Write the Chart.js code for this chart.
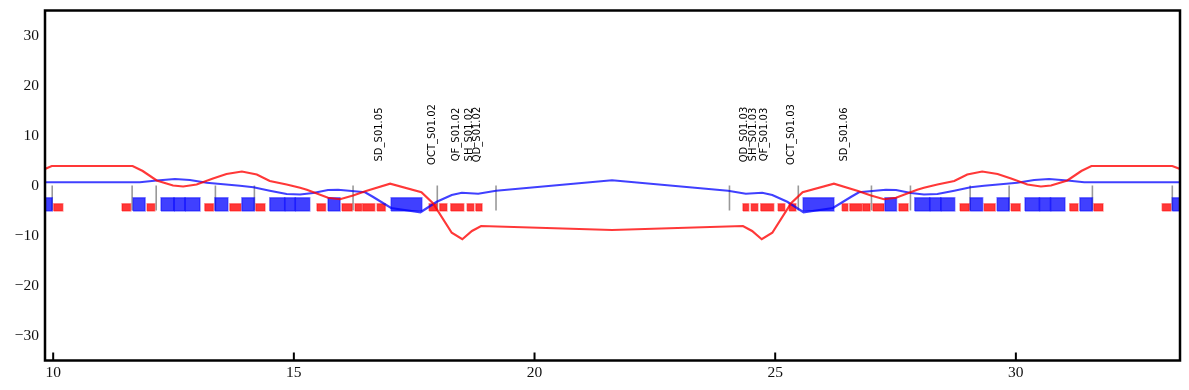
<html>
<head>
  <meta charset="utf-8" />
  <script src="https://cdn.jsdelivr.net/npm/chart.js@4/dist/chart.umd.min.js"></script>
  <style>
    body { margin: 0; background: white; }
    #latticeChart { display: block; }
  </style>
</head>
<body>
  <canvas id="latticeChart" width="1189" height="390"></canvas>
  <script>
    // axis ticks
    const xTicks = [10, 15, 20, 25, 30];
    const yTicks = [-30, -20, -10, 0, 10, 20, 30];

    // red trace
    const redX = [9.83, 9.97, 11.65, 11.86, 12.15, 12.49, 12.70, 12.98, 13.32, 13.60, 13.92, 14.23, 14.50, 14.85, 15.13, 15.27, 15.71, 15.96, 16.23, 16.50, 17.00, 17.65, 17.89, 18.28, 18.50, 18.70, 18.89, 21.61, 24.33, 24.52, 24.72, 24.94, 25.33, 25.57, 26.22, 26.72, 26.99, 27.26, 27.51, 27.95, 28.09, 28.37, 28.72, 28.99, 29.30, 29.62, 29.90, 30.24, 30.52, 30.73, 31.07, 31.36, 31.57, 33.25, 33.41];
    const redY = [3.3, 3.9, 3.9, 2.9, 1.0, 0.0, -0.2, 0.2, 1.4, 2.3, 2.8, 2.2, 0.9, 0.2, -0.45, -0.85, -2.45, -2.75, -2.0, -1.1, 0.35, -1.35, -3.55, -9.45, -10.75, -9.1, -8.1, -8.9, -8.1, -9.1, -10.75, -9.45, -3.55, -1.35, 0.35, -1.1, -2.0, -2.75, -2.45, -0.85, -0.45, 0.2, 0.9, 2.2, 2.8, 2.3, 1.4, 0.2, -0.2, 0.0, 1.0, 2.9, 3.9, 3.9, 3.3];

    // blue trace
    const blueX = [9.83, 11.64, 11.80, 12.15, 12.53, 12.84, 13.19, 13.88, 14.16, 14.50, 14.85, 15.13, 15.40, 15.71, 15.92, 16.48, 16.64, 17.02, 17.63, 17.97, 18.28, 18.49, 18.83, 19.20, 21.61, 24.02, 24.39, 24.73, 24.94, 25.25, 25.59, 26.20, 26.58, 26.74, 27.30, 27.51, 27.82, 28.09, 28.37, 28.72, 29.06, 29.34, 30.03, 30.38, 30.69, 31.07, 31.42, 31.58, 33.41];
    const blueY = [0.65, 0.65, 0.65, 1.0, 1.3, 1.1, 0.55, -0.05, -0.35, -1.05, -1.7, -1.8, -1.5, -0.9, -0.85, -1.35, -2.25, -4.5, -5.35, -3.25, -1.9, -1.45, -1.65, -1.05, 1.05, -1.05, -1.65, -1.45, -1.9, -3.25, -5.35, -4.5, -2.25, -1.35, -0.85, -0.9, -1.5, -1.8, -1.7, -1.05, -0.35, -0.05, 0.55, 1.1, 1.3, 1.0, 0.65, 0.65, 0.65];

    // blue elements
    const blueStart = [9.70, 11.66, 12.24, 12.51, 12.74, 13.36, 13.92, 14.50, 14.81, 15.03, 15.71, 17.02, 25.58, 27.28, 27.90, 28.21, 28.44, 29.05, 29.61, 30.19, 30.49, 30.72, 31.33, 33.25];
    const blueEnd = [9.98, 11.91, 12.51, 12.74, 13.05, 13.63, 14.18, 14.81, 15.03, 15.33, 15.96, 17.66, 26.22, 27.52, 28.21, 28.44, 28.73, 29.31, 29.86, 30.49, 30.72, 31.02, 31.59, 33.60];
    const blueLevels = [-2.45, -5.1];

    // red elements
    const redStart = [10.01, 11.43, 11.95, 13.15, 13.67, 14.21, 15.48, 16.00, 16.27, 16.43, 16.73, 17.81, 18.03, 18.26, 18.60, 18.78, 24.33, 24.50, 24.70, 25.06, 25.29, 26.39, 26.55, 26.82, 27.03, 27.57, 28.84, 29.34, 29.90, 31.12, 31.62, 33.04];
    const redEnd = [10.20, 11.61, 12.11, 13.33, 13.90, 14.40, 15.66, 16.21, 16.41, 16.68, 16.90, 17.97, 18.18, 18.53, 18.74, 18.91, 24.45, 24.64, 24.97, 25.20, 25.43, 26.51, 26.80, 26.97, 27.26, 27.76, 29.03, 29.57, 30.09, 31.29, 31.81, 33.22];
    const redLevels = [-3.65, -5.1];

    // grey markers
    const markerX = [9.98, 11.64, 12.14, 13.37, 14.18, 16.23, 17.98, 19.20, 24.05, 25.48, 27.00, 27.81, 29.05, 29.86, 31.59, 33.25];
    const markerLevels = [0, -5];

    // element names
    const labelNames = ["SD_S01.05", "OCT_S01.02", "QF_S01.02", "SH_S01.02", "QD_S01.02", "QD_S01.03", "SH_S01.03", "QF_S01.03", "OCT_S01.03", "SD_S01.06"];
    const labelX = [16.78, 17.88, 18.37, 18.64, 18.82, 24.36, 24.54, 24.77, 25.34, 26.43];
    const labelY = 10.2;

    let red = "rgba(255, 0, 0, 0.78)";
    let blue = "rgba(0, 0, 255, 0.75)";
    let redFill = "rgba(255, 0, 0, 0.78)";
    let blueFill = "rgba(0, 0, 255, 0.75)";
    let redEdge = "rgba(255, 0, 0, 0.4)";
    let blueEdge = "rgba(0, 0, 255, 0.45)";
    let tickFont = { family: "Liberation Serif", size: 15.5 };

    function trace(xs, ys, color) {
      return {
        type: "line",
        data: xs.map((x, i) => ({ x: x, y: ys[i] })),
        borderColor: color,
        borderWidth: 2.2,
        pointRadius: 0,
        tension: 0,
        fill: false,
        order: 0,
      };
    }

    function element(x0, x1, levels, fillColor, edgeColor) {
      return {
        type: "line",
        data: [
          { x: x0, y: levels[1] },
          { x: x0, y: levels[0] },
          { x: x1, y: levels[0] },
          { x: x1, y: levels[1] },
          { x: x0, y: levels[1] },
        ],
        borderColor: edgeColor,
        backgroundColor: fillColor,
        borderWidth: 1.5,
        pointRadius: 0,
        tension: 0,
        fill: "shape",
        order: 1,
      };
    }

    let datasets = [
      trace(redX, redY, red),
      trace(blueX, blueY, blue),
    ];
    blueStart.forEach((x, i) => datasets.push(element(x, blueEnd[i], blueLevels, blueFill, blueEdge)));
    redStart.forEach((x, i) => datasets.push(element(x, redEnd[i], redLevels, redFill, redEdge)));
    markerX.forEach((x) => {
      datasets.push({
        type: "line",
        data: [{ x: x, y: markerLevels[0] }, { x: x, y: markerLevels[1] }],
        borderColor: "rgba(128, 128, 128, 0.8)",
        borderWidth: 1.6,
        pointRadius: 0,
        order: 2,
      });
    });

    // frame, inward ticks and the rotated names
    const decorations = {
      id: "decorations",
      afterDraw(chart) {
        let ctx = chart.ctx;
        let area = chart.chartArea;
        let sx = chart.scales.x;
        let sy = chart.scales.y;
        ctx.save();

        ctx.font = "10px 'DejaVu Sans'";
        ctx.fillStyle = "#000";
        ctx.textAlign = "center";
        ctx.textBaseline = "middle";
        labelNames.forEach((name, i) => {
          ctx.save();
          ctx.translate(sx.getPixelForValue(labelX[i]), sy.getPixelForValue(labelY));
          ctx.rotate(-Math.PI / 2);
          ctx.fillText(name, 0, 0);
          ctx.restore();
        });

        ctx.strokeStyle = "#000";
        ctx.lineWidth = 2;
        xTicks.forEach((v) => {
          let px = sx.getPixelForValue(v);
          ctx.beginPath();
          ctx.moveTo(px, area.bottom);
          ctx.lineTo(px, area.bottom - 8);
          ctx.stroke();
        });

        ctx.lineWidth = 2.5;
        ctx.strokeRect(area.left, area.top, area.right - area.left, area.bottom - area.top);
        ctx.restore();
      },
    };

    new Chart(document.getElementById("latticeChart").getContext("2d"), {
      type: "line",
      data: { datasets: datasets },
      plugins: [decorations],
      options: {
        responsive: false,
        animation: false,
        layout: { padding: { top: 10.5, right: 9, bottom: 0, left: 0 } },
        plugins: { legend: { display: false }, tooltip: { enabled: false } },
        scales: {
          x: {
            type: "linear",
            min: 9.83,
            max: 33.41,
            afterBuildTicks: (scale) => { scale.ticks = xTicks.map((v) => ({ value: v })); },
            afterFit: (scale) => { scale.height = 29.5; scale.paddingLeft = 0; scale.paddingRight = 0; },
            grid: { display: false, drawTicks: false },
            border: { display: false },
            ticks: { font: tickFont, color: "#111", padding: 3, maxRotation: 0, autoSkip: false, callback: (v) => String(v) },
          },
          y: {
            type: "linear",
            min: -35,
            max: 35,
            afterBuildTicks: (scale) => { scale.ticks = yTicks.map((v) => ({ value: v })); },
            afterFit: (scale) => { scale.width = 45; scale.paddingTop = 0; scale.paddingBottom = 0; },
            grid: { display: false, drawTicks: false },
            border: { display: false },
            ticks: { font: tickFont, color: "#111", padding: 6, autoSkip: false, callback: (v) => String(v).replace("-", "\u2212") },
          },
        },
      },
    });
  </script>
</body>
</html>
